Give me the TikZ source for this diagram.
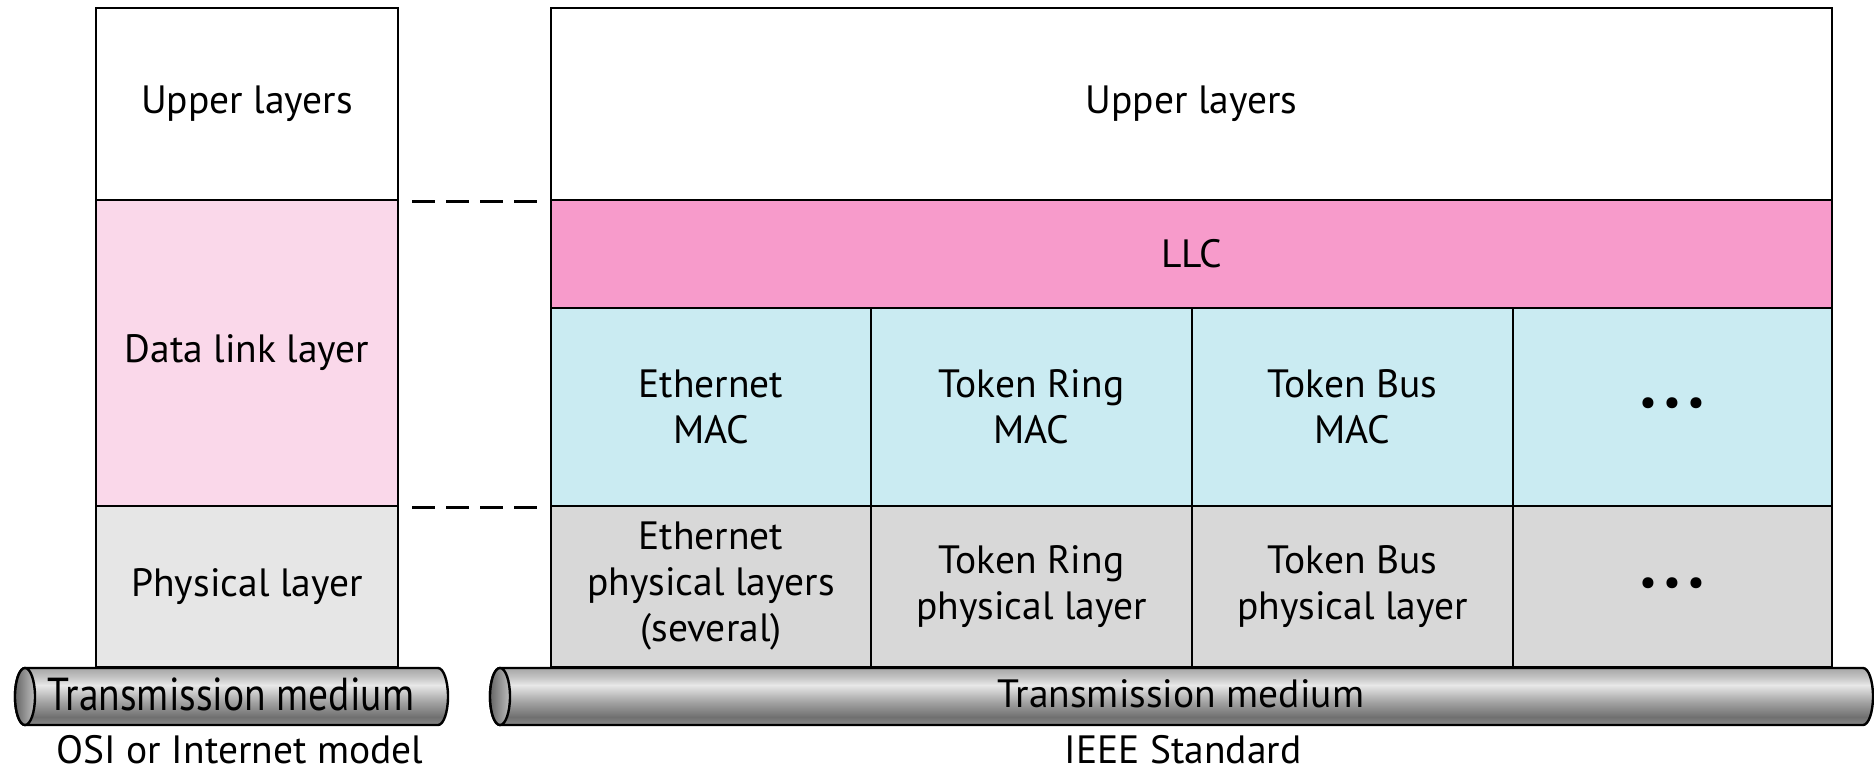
\documentclass[tikz,border=0pt]{standalone}
\usepackage{fontspec}
\setmainfont{PT Sans}
\definecolor{dlpink}{HTML}{FAD8EA}
\definecolor{llcpink}{HTML}{F79BCB}
\definecolor{maccyan}{HTML}{CAEBF2}
\definecolor{phygray}{HTML}{D8D8D8}
\definecolor{lphygray}{HTML}{E6E6E6}
\definecolor{tA}{HTML}{8A8A8A}
\definecolor{tB}{HTML}{707070}
\definecolor{tC}{HTML}{A2A2A2}
\definecolor{tD}{HTML}{E8E8E8}
\definecolor{tE}{HTML}{C4C4C4}
\definecolor{tF}{HTML}{A6A6A6}
\pgfdeclareverticalshading{tube}{100bp}{color(0bp)=(tA); color(25bp)=(tA); color(32bp)=(tB); color(45bp)=(tC); color(60bp)=(tD); color(67bp)=(tE); color(75bp)=(tF); color(100bp)=(tF)}
\begin{document}
\begin{tikzpicture}[x=1pt,y=-1pt,
  cell/.style={draw=black, line width=2.8pt, inner sep=0pt, align=center,
    font=\fontsize{39.5}{46}\selectfont},
  txt/.style={inner sep=0pt, align=center, font=\fontsize{39.5}{46}\selectfont},
  dashline/.style={line width=2.8pt, dash pattern=on 23pt off 11pt, shorten <=13pt, shorten >=6pt},
  tubeline/.style={draw=black, line width=2.4pt}]
\useasboundingbox (0,0) rectangle (1874,771);
% left column
\node[cell, fill=white, minimum width=302pt, minimum height=192pt] (lupper) at (247,104) {Upper layers};
\node[cell, fill=dlpink, minimum width=302pt, minimum height=306pt] (ldl) at (247,353) {Data link layer};
\node[cell, fill=lphygray, minimum width=302pt, minimum height=161pt] (lphy) at (247,586.5) {Physical layer};
% right column
\node[cell, fill=white, minimum width=1281pt, minimum height=192pt] (rupper) at (1191.5,104) {Upper layers};
\node[cell, fill=llcpink, minimum width=1281pt, minimum height=108pt] (llc) at (1191.5,254) {LLC};
\node[cell, fill=maccyan, minimum width=320pt, minimum height=198pt] (mac1) at (711,407) {Ethernet\\MAC};
\node[cell, fill=maccyan, minimum width=321pt, minimum height=198pt] (mac2) at (1031.5,407) {Token Ring\\MAC};
\node[cell, fill=maccyan, minimum width=321pt, minimum height=198pt] (mac3) at (1352.5,407) {Token Bus\\MAC};
\node[cell, fill=maccyan, minimum width=319pt, minimum height=198pt] (mac4) at (1672.5,407) {•\hspace{6pt}•\hspace{6pt}•};
\node[cell, fill=phygray, minimum width=320pt, minimum height=161pt] (phy1) at (711,586.5) {Ethernet\\physical layers\\(several)};
\node[cell, fill=phygray, minimum width=321pt, minimum height=161pt] (phy2) at (1031.5,586.5) {Token Ring\\physical layer};
\node[cell, fill=phygray, minimum width=321pt, minimum height=161pt] (phy3) at (1352.5,586.5) {Token Bus\\physical layer};
\node[cell, fill=phygray, minimum width=319pt, minimum height=161pt] (phy4) at (1672.5,586.5) {•\hspace{6pt}•\hspace{6pt}•};
% dashed correspondence lines
\draw[dashline] (lupper.south east) -- (rupper.south west);
\draw[dashline] (ldl.south east) -- (mac1.south west);
% left tube
\path[shading=tube, tubeline] (25,668) -- (438,668) arc[start angle=-90, end angle=90, x radius=10, y radius=28.5] -- (25,725) arc[start angle=90, end angle=270, x radius=10, y radius=28.5] -- cycle;
\path[tubeline, left color=black!60, right color=black!25] (25,696.5) ellipse[x radius=10, y radius=28.5];
% right tube
\path[shading=tube, tubeline] (500,668) -- (1863,668) arc[start angle=-90, end angle=90, x radius=10, y radius=28.5] -- (500,725) arc[start angle=90, end angle=270, x radius=10, y radius=28.5] -- cycle;
\path[tubeline, left color=black!60, right color=black!25] (500,696.5) ellipse[x radius=10, y radius=28.5];
\node[txt] (tm1) at (231,694) {\scalebox{1}[1.17]{Transmission medium}};
\node[txt] (tm2) at (1181,694) {Transmission medium};
\node[txt] (osi) at (240,750) {OSI or Internet model};
\node[txt] (ieee) at (1183,750) {IEEE Standard};
\end{tikzpicture}
\end{document}
